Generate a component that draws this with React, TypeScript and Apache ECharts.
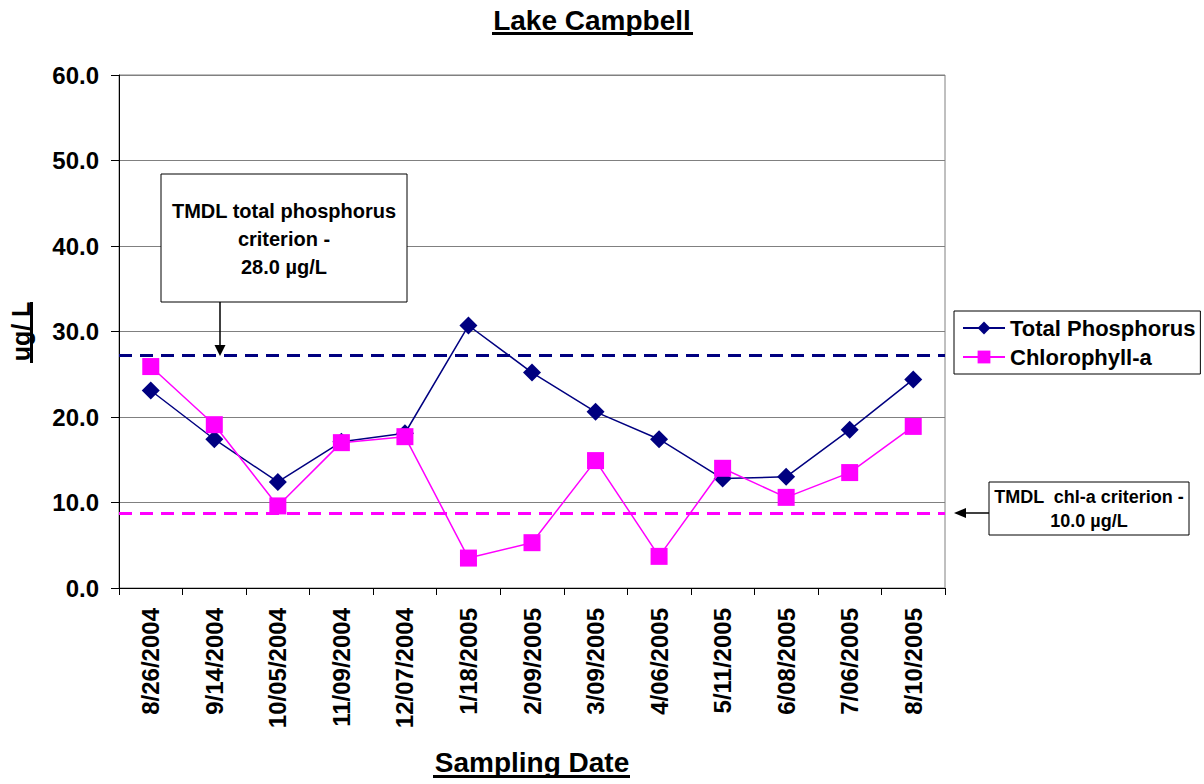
import React, { useEffect, useRef } from "react";
import * as echarts from "echarts";

const dates = [
  "8/26/2004", "9/14/2004", "10/05/2004", "11/09/2004", "12/07/2004", "1/18/2005",
  "2/09/2005", "3/09/2005", "4/06/2005", "5/11/2005", "6/08/2005", "7/06/2005", "8/10/2005",
];
const totalPhosphorus = [23.1, 17.4, 12.4, 17.1, 18.1, 30.7, 25.2, 20.6, 17.4, 12.8, 13.0, 18.5, 24.4];
const chlorophyllA = [25.9, 19.1, 9.6, 17.0, 17.7, 3.5, 5.3, 14.9, 3.7, 14.0, 10.6, 13.5, 18.9];
const tpCriterionLine = 27.2;
const chlCriterionLine = 8.8;
const yTicks = { min: 0, max: 60, interval: 10 };

const FONT = "'Liberation Sans', Arial, Helvetica, sans-serif";
const NAVY = "#000080";
const MAGENTA = "#FF00FF";

export default function App() {
  const ref = useRef<HTMLDivElement>(null);
  useEffect(() => {
    if (!ref.current) return;
    const chart = echarts.init(ref.current, null, { renderer: "svg" });
    chart.setOption({
      animation: false,
      backgroundColor: "#ffffff",
      title: {
        text: "Lake Campbell",
        left: 592,
        top: 0,
        padding: 0,
        textAlign: "center",
        textStyle: { fontFamily: FONT, fontSize: 28, fontWeight: "bold", color: "#000", lineHeight: 40 },
      },
      legend: {
        orient: "vertical",
        left: 954,
        top: 311,
        width: 245,
        padding: [6, 5, 6, 8],
        itemWidth: 42,
        itemHeight: 16,
        itemGap: 7,
        borderColor: "#000",
        borderWidth: 1,
        backgroundColor: "#fff",
        textStyle: { fontFamily: FONT, fontSize: 22, fontWeight: "bold", color: "#000", lineHeight: 22 },
        data: ["Total Phosphorus", "Chlorophyll-a"],
      },
      grid: {
        left: 116,
        right: 259,
        top: 75,
        bottom: 196,
        show: true,
        borderColor: "#808080",
        borderWidth: 1,
      },
      xAxis: {
        type: "category",
        data: dates,
        boundaryGap: true,
        name: "Sampling Date",
        nameLocation: "middle",
        nameGap: 160,
        nameTextStyle: { fontFamily: FONT, fontSize: 28, fontWeight: "bold", color: "#000" },
        axisLine: { lineStyle: { color: "#000", width: 1 } },
        axisTick: { show: true, interval: 0, length: 7, lineStyle: { color: "#000" } },
        axisLabel: {
          interval: 0,
          rotate: 90,
          margin: 20,
          fontFamily: FONT,
          fontSize: 24,
          fontWeight: "bold",
          color: "#000",
        },
        splitLine: { show: false },
      },
      yAxis: {
        type: "value",
        min: yTicks.min,
        max: yTicks.max,
        interval: yTicks.interval,
        name: "ug/ L",
        nameLocation: "middle",
        nameGap: 86,
        nameRotate: 90,
        nameTextStyle: { fontFamily: FONT, fontSize: 25, fontWeight: "bold", color: "#000" },
        axisLine: { show: true, lineStyle: { color: "#000", width: 1 } },
        axisTick: { show: true, length: 8, lineStyle: { color: "#000" } },
        axisLabel: {
          margin: 20,
          fontFamily: FONT,
          fontSize: 24,
          fontWeight: "bold",
          color: "#000",
          formatter: (v: number) => v.toFixed(1),
        },
        splitLine: { show: true, lineStyle: { color: "#808080", width: 1 } },
      },
      series: [
        {
          name: "Total Phosphorus",
          type: "line",
          data: totalPhosphorus,
          symbol: "diamond",
          symbolSize: 18,
          itemStyle: { color: NAVY },
          lineStyle: { color: NAVY, width: 1.5 },
          z: 3,
          markLine: {
            silent: true,
            symbol: ["none", "none"],
            label: { show: false },
            lineStyle: { color: NAVY, type: [13, 8], width: 3 },
            data: [{ yAxis: tpCriterionLine }],
          },
        },
        {
          name: "Chlorophyll-a",
          type: "line",
          data: chlorophyllA,
          symbol: "rect",
          symbolSize: 17,
          itemStyle: { color: MAGENTA },
          lineStyle: { color: MAGENTA, width: 1.5 },
          z: 4,
          markLine: {
            silent: true,
            symbol: ["none", "none"],
            label: { show: false },
            lineStyle: { color: MAGENTA, type: [13, 8], width: 3 },
            data: [{ yAxis: chlCriterionLine }],
          },
        },
      ],
      graphic: [
        // underlines
        { type: "rect", shape: { x: 492, y: 32, width: 201, height: 3 }, style: { fill: "#000" } },
        { type: "rect", shape: { x: 433, y: 775, width: 197, height: 3 }, style: { fill: "#000" } },
        { type: "rect", shape: { x: 30, y: 302, width: 3, height: 61 }, style: { fill: "#000" } },
        // TP criterion box
        {
          type: "rect",
          shape: { x: 161, y: 174, width: 246, height: 128 },
          style: { fill: "#fff", stroke: "#000", lineWidth: 1 },
          z: 10,
        },
        {
          type: "text",
          x: 284,
          y: 239,
          z: 11,
          style: {
            text: "TMDL total phosphorus\ncriterion -\n28.0 µg/L",
            fontFamily: FONT,
            fontSize: 20,
            fontWeight: "bold",
            fill: "#000",
            align: "center",
            verticalAlign: "middle",
            lineHeight: 28,
          },
        },
        { type: "line", shape: { x1: 220, y1: 302, x2: 220, y2: 347 }, style: { stroke: "#000", lineWidth: 1.5 }, z: 10 },
        {
          type: "polygon",
          shape: { points: [[214.5, 345], [225.5, 345], [220, 356]] },
          style: { fill: "#000" },
          z: 10,
        },
        // Chl-a criterion box
        {
          type: "rect",
          shape: { x: 989, y: 482, width: 200, height: 53 },
          style: { fill: "#fff", stroke: "#000", lineWidth: 1 },
          z: 10,
        },
        {
          type: "text",
          x: 1089,
          y: 509,
          z: 11,
          style: {
            text: "TMDL  chl-a criterion -\n10.0 µg/L",
            fontFamily: FONT,
            fontSize: 18,
            fontWeight: "bold",
            fill: "#000",
            align: "center",
            verticalAlign: "middle",
            lineHeight: 24,
          },
        },
        { type: "line", shape: { x1: 989, y1: 513, x2: 962, y2: 513 }, style: { stroke: "#000", lineWidth: 1.5 }, z: 10 },
        {
          type: "polygon",
          shape: { points: [[954, 513], [966, 508], [966, 518]] },
          style: { fill: "#000" },
          z: 10,
        },
      ],
    });
    return () => chart.dispose();
  }, []);
  return <div ref={ref} style={{ width: 1204, height: 784, position: "absolute", left: 0, top: 0 }} />;
}
